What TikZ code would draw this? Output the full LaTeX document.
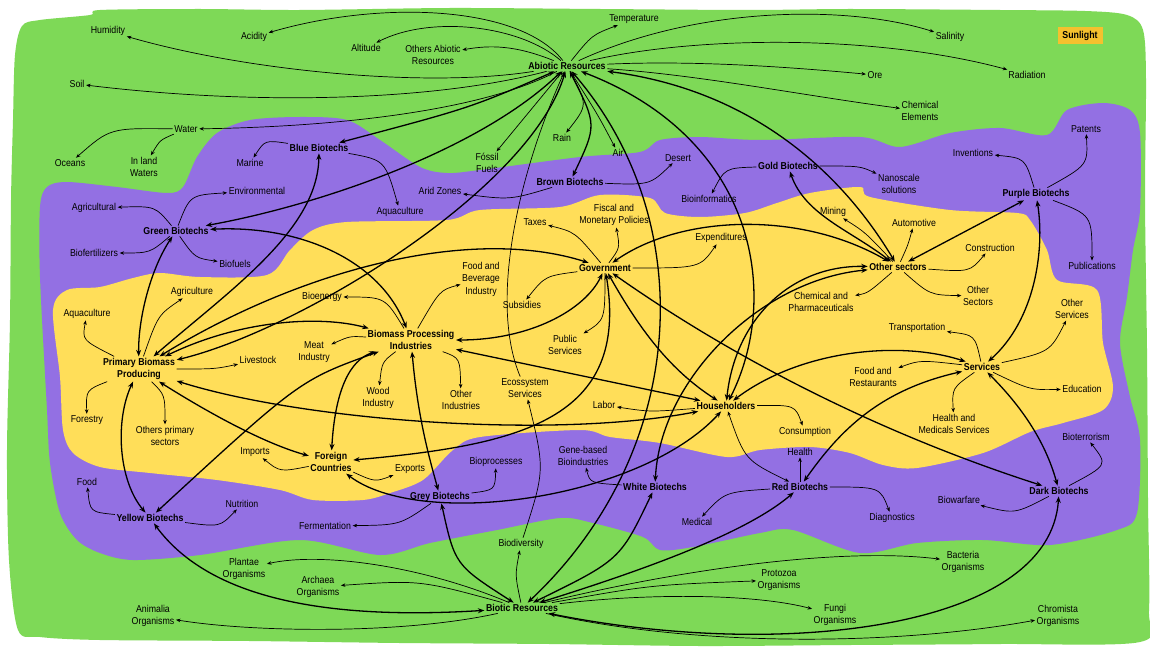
\documentclass[tikz,border=0pt]{standalone}
\usepackage{fontspec}
\setmainfont{Liberation Sans}[FakeStretch=0.88]
\usetikzlibrary{arrows.meta}
\definecolor{bggreen}{HTML}{7ED957}
\definecolor{bgpurple}{HTML}{9370E3}
\definecolor{bgyellow}{HTML}{FFDE59}
\definecolor{sunbox}{HTML}{F5C12E}
\begin{document}
\begin{tikzpicture}[x=1pt,y=-1pt,
 lab/.style={font=\fontsize{10}{12.5}\selectfont,align=center,inner sep=1.5pt},
 hub/.style={lab,font=\fontsize{10}{12.5}\selectfont\bfseries},
 fan/.style={line width=0.7pt,-{Stealth[length=4.5pt,width=3.6pt]}},
 fanb/.style={line width=0.7pt,{Stealth[length=4.5pt,width=3.6pt]}-{Stealth[length=4.5pt,width=3.6pt]}},
 link/.style={line width=1.3pt,{Stealth[length=6.5pt,width=5pt]}-{Stealth[length=6.5pt,width=5pt]}}]
\useasboundingbox (0,0) rectangle (1150,650);
\fill[white] (0,0) rectangle (1150,650);
\fill[bggreen] plot[smooth cycle,tension=0.5] coordinates {(22,26) (40,20) (90,15) (100,10) (200,9) (300,10) (450,8) (600,9) (750,10) (850,9) (1000,10) (1085,11) (1127,15) (1143,30) (1146,80) (1145,200) (1147,350) (1148,500) (1149,610) (1140,642) (1000,644) (850,645) (700,646) (550,644) (400,643) (250,641) (100,640) (40,637) (18,630) (9,560) (7,450) (10,320) (11,200) (13,120) (15,55)};
\fill[bgpurple] plot[smooth cycle,tension=0.5] coordinates {(40,207) (47,187) (67,182) (117,187) (167,193) (183,187) (197,157) (217,133) (250,120) (300,117) (347,120) (380,140) (420,167) (447,173) (480,170) (580,157) (640,152) (660,140) (700,137) (760,140) (860,137) (900,147) (950,133) (1000,128) (1047,135) (1067,110) (1103,103) (1130,110) (1140,133) (1140,210) (1133,250) (1127,297) (1120,343) (1130,397) (1140,440) (1137,513) (1117,530) (1050,545) (983,540) (917,543) (860,553) (793,530) (760,533) (693,547) (660,550) (643,537) (593,523) (560,518) (497,530) (430,543) (380,555) (300,540) (200,555) (133,560) (100,553) (77,540) (60,513) (50,463) (47,410) (40,277)};
\fill[bgyellow] plot[smooth cycle,tension=0.5] coordinates {(53,310) (67,290) (100,287) (133,278) (160,273) (200,277) (267,275) (290,250) (313,230) (347,222) (447,220) (480,210) (560,207) (600,195) (650,198) (665,213) (700,217) (745,213) (777,203) (810,193) (860,187) (870,197) (950,210) (1017,213) (1030,220) (1047,250) (1057,280) (1097,290) (1103,343) (1113,387) (1103,410) (1063,423) (1030,432) (983,453) (917,468) (883,465) (850,453) (810,447) (760,450) (727,457) (660,443) (610,437) (580,430) (480,437) (453,450) (423,480) (390,493) (363,500) (313,500) (280,490) (217,480) (150,473) (100,467) (73,453) (63,430) (60,377)};
% nodes
\node[hub] (ab) at (567,66) {Abiotic Resources};
\node[lab] (hum) at (108,31) {Humidity};
\node[lab] (acid) at (254,37) {Acidity};
\node[lab] (alt) at (366,48) {Altitude};
\node[lab] (oab) at (433,55) {Others Abiotic\\Resources};
\node[lab] (temp) at (634,19) {Temperature};
\node[lab] (sal) at (950,37) {Salinity};
\node[hub,fill=sunbox,minimum width=45pt,minimum height=17pt] (sun) at (1080,36) {Sunlight};
\node[lab] (ore) at (875,75) {Ore};
\node[lab] (rad) at (1027,75) {Radiation};
\node[lab] (chem) at (920,111) {Chemical\\Elements};
\node[lab] (soil) at (77,84) {Soil};
\node[lab] (water) at (186,129) {Water};
\node[lab] (ocean) at (70,163) {Oceans};
\node[lab] (inland) at (144,167) {In land\\Waters};
\node[lab] (rain) at (562,138) {Rain};
\node[lab] (air) at (618,153) {Air};
\node[lab] (fossil) at (487,163) {Fóssil\\Fuels};
\node[hub] (blue) at (319,148) {Blue Biotechs};
\node[lab] (marine) at (250,163) {Marine};
\node[lab] (env) at (257,191) {Environmental};
\node[lab] (aquab) at (400,212) {Aquaculture};
\node[lab] (arid) at (440,191) {Arid Zones};
\node[hub] (brown) at (570,182) {Brown Biotechs};
\node[lab] (desert) at (678,158) {Desert};
\node[hub] (gold) at (788,166) {Gold Biotechs};
\node[lab] (bioinf) at (709,199) {Bioinformatics};
\node[lab] (nano) at (899,184) {Nanoscale\\solutions};
\node[lab] (mining) at (833,212) {Mining};
\node[lab] (invent) at (973,153) {Inventions};
\node[lab] (patents) at (1086,129) {Patents};
\node[hub] (purple) at (1036,194) {Purple Biotechs};
\node[lab] (pubs) at (1092,266) {Publications};
\node[hub] (green) at (176,231) {Green Biotechs};
\node[lab] (agrl) at (94,208) {Agricultural};
\node[lab] (biofert) at (94,253) {Biofertilizers};
\node[lab] (biofuel) at (235,264) {Biofuels};
\node[lab] (agri) at (192,292) {Agriculture};
\node[lab] (aquap) at (87,314) {Aquaculture};
\node[hub] (pb) at (139,369) {Primary Biomass\\Producing};
\node[lab] (live) at (258,360) {Livestock};
\node[lab] (forest) at (87,420) {Forestry};
\node[lab] (othprim) at (165,436) {Others primary\\sectors};
\node[lab] (bioen) at (322,297) {Bioenergy};
\node[lab] (meat) at (314,352) {Meat\\Industry};
\node[hub] (bp) at (411,340) {Biomass Processing\\Industries};
\node[lab] (wood) at (378,398) {Wood\\Industry};
\node[lab] (othind) at (461,400) {Other\\Industries};
\node[lab] (foodbev) at (481,279) {Food and\\Beverage\\Industry};
\node[lab] (taxes) at (535,222) {Taxes};
\node[lab] (fiscal) at (614,215) {Fiscal and\\Monetary Policies};
\node[hub] (gov) at (605,268) {Government};
\node[lab] (subs) at (522,305) {Subsidies};
\node[lab] (pubserv) at (565,345) {Public\\Services};
\node[lab] (expend) at (721,238) {Expenditures};
\node[lab] (eco) at (525,388) {Ecossystem\\Services};
\node[lab] (labor) at (604,405) {Labor};
\node[hub] (hh) at (726,406) {Householders};
\node[lab] (consum) at (805,432) {Consumption};
\node[lab] (chemph) at (821,302) {Chemical and\\Pharmaceuticals};
\node[hub] (os) at (898,267) {Other sectors};
\node[lab] (auto) at (914,223) {Automotive};
\node[lab] (constr) at (990,248) {Construction};
\node[lab] (othsec) at (978,296) {Other\\Sectors};
\node[lab] (transp) at (917,328) {Transportation};
\node[hub] (serv) at (982,367) {Services};
\node[lab] (foodrest) at (873,377) {Food and\\Restaurants};
\node[lab] (healthm) at (954,424) {Health and\\Medicals Services};
\node[lab] (othserv) at (1072,309) {Other\\Services};
\node[lab] (edu) at (1082,389) {Education};
\node[lab] (imports) at (255,452) {Imports};
\node[hub] (fc) at (331,462) {Foreign\\Countries};
\node[lab] (exports) at (410,469) {Exports};
\node[lab] (bioproc) at (496,462) {Bioprocesses};
\node[hub] (grey) at (440,497) {Grey Biotechs};
\node[lab] (ferm) at (325,526) {Fermentation};
\node[lab] (gene) at (583,456) {Gene-based\\Bioindustries};
\node[hub] (white) at (655,487) {White Biotechs};
\node[lab] (healthr) at (800,452) {Health};
\node[hub] (red) at (800,487) {Red Biotechs};
\node[lab] (medical) at (697,522) {Medical};
\node[lab] (diag) at (892,518) {Diagnostics};
\node[lab] (bioterr) at (1086,437) {Bioterrorism};
\node[hub] (dark) at (1059,491) {Dark Biotechs};
\node[lab] (biowar) at (959,500) {Biowarfare};
\node[lab] (food) at (87,482) {Food};
\node[hub] (yellow) at (150,518) {Yellow Biotechs};
\node[lab] (nutr) at (242,504) {Nutrition};
\node[lab] (plantae) at (244,569) {Plantae\\Organisms};
\node[lab] (archaea) at (318,587) {Archaea\\Organisms};
\node[lab] (biodiv) at (521,544) {Biodiversity};
\node[hub] (biotic) at (522,608) {Biotic Resources};
\node[lab] (animalia) at (153,616) {Animalia\\Organisms};
\node[lab] (protozoa) at (779,580) {Protozoa\\Organisms};
\node[lab] (bacteria) at (963,562) {Bacteria\\Organisms};
\node[lab] (fungi) at (835,615) {Fungi\\Organisms};
\node[lab] (chromista) at (1058,616) {Chromista\\Organisms};
% thin fans
\draw[fan] (ab) .. controls (430,88) and (250,72) .. (hum);
\draw[fan] (ab) .. controls (520,5) and (380,0) .. (acid);
\draw[fan] (ab) .. controls (520,25) and (430,15) .. (alt);
\draw[fan] (ab) .. controls (515,45) and (490,45) .. (oab);
\draw[fan] (ab) .. controls (430,102) and (250,105) .. (soil);
\draw[fan] (ab) .. controls (480,112) and (330,127) .. (water);
\draw[fan] (ab) .. controls (592,35) .. (temp);
\draw[fan] (ab) .. controls (700,5) and (850,5) .. (sal);
\draw[fan] (ab) .. controls (700,35) and (880,35) .. (rad);
\draw[fan] (ab) .. controls (700,60) and (800,68) .. (ore);
\draw[fan] (ab) .. controls (700,75) and (800,95) .. (chem);
\draw[fan] (ab) .. controls (588,105) .. (rain);
\draw[fan] (ab) .. controls (598,115) .. (air);
\draw[fanb] (ab) -- (fossil);
\draw[fan] (water) .. controls (110,128) .. (ocean);
\draw[fan] (water) .. controls (160,140) .. (inland);
\draw[fan] (blue) .. controls (265,140) .. (marine);
\draw[fan] (blue) .. controls (385,160) .. (aquab);
\draw[fan] (brown) .. controls (510,200) .. (arid);
\draw[fan] (brown) .. controls (650,185) .. (desert);
\draw[fan] (gold) .. controls (725,168) .. (bioinf);
\draw[fan] (gold) .. controls (860,166) .. (nano);
\draw[fan] (purple) .. controls (1025,158) .. (invent);
\draw[fan] (purple) .. controls (1088,165) .. (patents);
\draw[fan] (purple) .. controls (1092,215) .. (pubs);
\draw[fan] (green) .. controls (155,206) .. (agrl);
\draw[fan] (green) .. controls (190,195) .. (env);
\draw[fan] (green) .. controls (150,253) .. (biofert);
\draw[fan] (green) .. controls (195,258) .. (biofuel);
\draw[fan] (pb) .. controls (158,315) .. (agri);
\draw[fan] (pb) .. controls (82,340) .. (aquap);
\draw[fan] (pb) .. controls (215,369) .. (live);
\draw[fan] (pb) .. controls (86,390) .. (forest);
\draw[fan] (pb) .. controls (165,395) .. (othprim);
\draw[fan] (bp) .. controls (385,297) .. (bioen);
\draw[fan] (bp) .. controls (350,336) .. (meat);
\draw[fan] (bp) .. controls (382,362) .. (wood);
\draw[fan] (bp) .. controls (460,358) .. (othind);
\draw[fan] (bp) .. controls (440,290) .. (foodbev);
\draw[fan] (gov) .. controls (575,232) .. (taxes);
\draw[fan] (gov) .. controls (620,248) .. (fiscal);
\draw[fan] (gov) .. controls (545,276) .. (subs);
\draw[fan] (gov) .. controls (605,320) .. (pubserv);
\draw[fan] (gov) .. controls (700,268) .. (expend);
\draw[fan] (hh) .. controls (650,412) .. (labor);
\draw[fan] (hh) .. controls (795,405) .. (consum);
\draw[fan] (os) .. controls (865,232) .. (mining);
\draw[fan] (os) .. controls (908,245) .. (auto);
\draw[fan] (os) .. controls (970,272) .. (constr);
\draw[fan] (os) .. controls (930,295) .. (othsec);
\draw[fan] (os) .. controls (868,293) .. (chemph);
\draw[fan] (serv) .. controls (975,335) .. (transp);
\draw[fan] (serv) .. controls (920,360) .. (foodrest);
\draw[fan] (serv) .. controls (952,388) .. (healthm);
\draw[fan] (serv) .. controls (1050,352) .. (othserv);
\draw[fan] (serv) .. controls (1030,390) .. (edu);
\draw[fan] (fc) .. controls (280,472) .. (imports);
\draw[fan] (fc) .. controls (375,482) .. (exports);
\draw[fan] (grey) .. controls (495,490) .. (bioproc);
\draw[fan] (grey) .. controls (400,525) .. (ferm);
\draw[fan] (yellow) .. controls (90,512) .. (food);
\draw[fan] (yellow) .. controls (220,527) .. (nutr);
\draw[fan] (white) .. controls (590,483) .. (gene);
\draw[fan] (red) -- (healthr);
\draw[fan] (red) .. controls (725,492) .. (medical);
\draw[fan] (red) .. controls (880,487) .. (diag);
\draw[fan] (dark) .. controls (1108,465) .. (bioterr);
\draw[fan] (dark) .. controls (1015,514) .. (biowar);
\draw[fan] (biotic) .. controls (420,565) and (320,552) .. (plantae);
\draw[fan] (biotic) .. controls (420,580) .. (archaea);
\draw[fan] (biotic) .. controls (400,635) and (250,632) .. (animalia);
\draw[fan] (biotic) .. controls (515,575) .. (biodiv);
\draw[fan] (biodiv) .. controls (545,470) .. (eco);
\draw[fan] (eco) .. controls (488,300) and (520,170) .. (ab);
\draw[fan] (biotic) .. controls (650,585) .. (protozoa);
\draw[fan] (biotic) .. controls (660,592) and (760,595) .. (fungi);
\draw[fan] (biotic) .. controls (700,565) and (850,548) .. (bacteria);
\draw[fan] (biotic) .. controls (700,648) and (900,645) .. (chromista);
% thick links
\draw[link] (ab) .. controls (470,108) .. (blue);
\draw[link] (ab) .. controls (480,150) and (320,205) .. (green);
\draw[link] (ab) .. controls (530,190) and (300,330) .. (pb);
\draw[link] (ab) .. controls (597,125) .. (brown);
\draw[link] (ab) .. controls (700,220) and (690,450) .. (biotic);
\draw[link] (ab) .. controls (760,140) and (780,300) .. (hh);
\draw[link] (ab) .. controls (750,90) and (840,170) .. (os);
\draw[link] (green) .. controls (300,225) and (380,260) .. (bp);
\draw[link] (green) .. controls (150,270) and (138,320) .. (pb);
\draw[link] (blue) .. controls (318,230) and (230,290) .. (pb);
\draw[link] (pb) .. controls (300,270) and (470,225) .. (gov);
\draw[link] (pb) .. controls (240,320) and (320,315) .. (bp);
\draw[link] (pb) .. controls (300,420) and (550,440) .. (hh);
\draw[link] (pb) .. controls (220,420) and (270,445) .. (fc);
\draw[link] (pb) .. controls (115,420) and (118,480) .. (yellow);
\draw[link] (bp) .. controls (530,340) and (585,310) .. (gov);
\draw[link] (bp) -- (hh);
\draw[link] (bp) .. controls (300,380) .. (yellow);
\draw[link] (bp) .. controls (418,420) and (430,460) .. (grey);
\draw[link] (fc) .. controls (335,390) and (350,360) .. (bp);
\draw[link] (gov) .. controls (680,215) and (800,210) .. (os);
\draw[link] (gov) .. controls (640,330) and (670,370) .. (hh);
\draw[link] (gov) .. controls (630,420) and (520,445) .. (fc);
\draw[link] (gov) .. controls (750,370) and (900,440) .. (dark);
\draw[link] (gold) .. controls (805,215) and (850,230) .. (os);
\draw[link] (os) -- (purple);
\draw[link] (os) .. controls (790,265) and (735,320) .. (hh);
\draw[link] (os) .. controls (760,280) and (660,380) .. (white);
\draw[link] (purple) .. controls (1045,250) and (1035,320) .. (serv);
\draw[link] (serv) .. controls (900,340) and (800,350) .. (hh);
\draw[link] (serv) .. controls (880,390) and (840,430) .. (red);
\draw[link] (serv) .. controls (1020,405) and (1045,440) .. (dark);
\draw[fanb] (hh) .. controls (745,460) .. (red);
\draw[link] (fc) .. controls (420,530) and (640,500) .. (hh);
\draw[link] (yellow) .. controls (210,600) and (330,620) .. (biotic);
\draw[link] (grey) .. controls (455,565) .. (biotic);
\draw[link] (biotic) .. controls (620,560) .. (white);
\draw[link] (biotic) .. controls (660,565) and (750,530) .. (red);
\draw[link] (biotic) .. controls (780,660) and (1050,630) .. (dark);
\end{tikzpicture}
\end{document}
